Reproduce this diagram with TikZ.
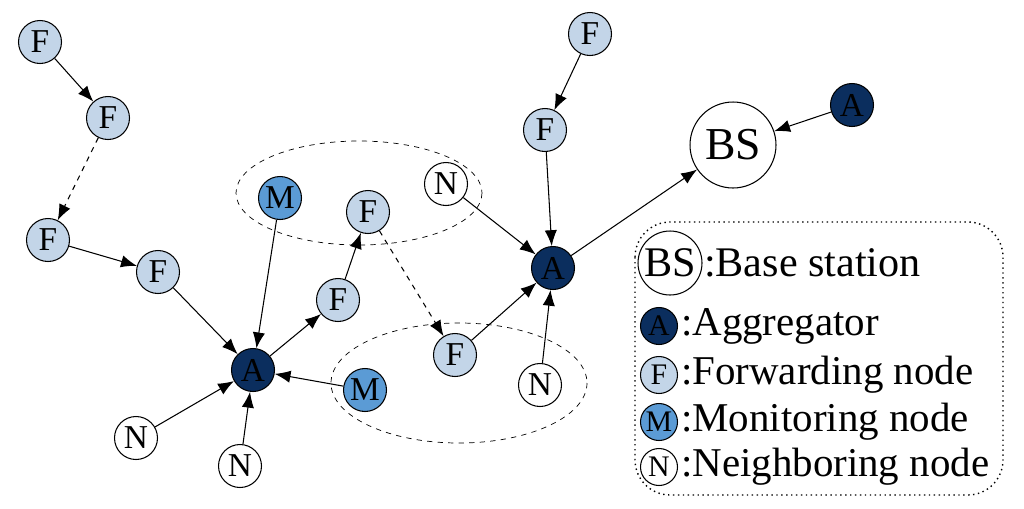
\documentclass[tikz,border=0pt]{standalone}
\usepackage{fontspec}
\setmainfont{Liberation Serif}
\usetikzlibrary{arrows.meta}
\definecolor{navy}{HTML}{0B2E5E}
\definecolor{lb}{HTML}{C3D5E8}
\definecolor{mb}{HTML}{5B9BD5}
\begin{document}
\begin{tikzpicture}[x=0.02cm,y=-0.02cm,
 nd/.style={circle,draw,semithick,minimum size=0.86cm,inner sep=0pt,font=\fontsize{19}{19}\selectfont},
 F/.style={nd,fill=lb}, A/.style={nd,fill=navy}, M/.style={nd,fill=mb}, N/.style={nd,fill=white},
 ar/.style={-{Latex[length=9pt,width=7pt]},semithick}, da/.style={ar,dashed},
 lt/.style={anchor=west,inner sep=1pt,font=\fontsize{23.3}{23.3}\selectfont}]
\useasboundingbox (0,0) rectangle (1024,508);
\draw[dashed] (359,193) ellipse [x radius=123,y radius=52];
\draw[dashed] (459,383) ellipse [x radius=128,y radius=60];
\node[F] (f1) at (40,42) {F};
\node[F] (f2) at (108,118) {F};
\node[F] (f3) at (48,240) {F};
\node[F] (f4) at (158,272) {F};
\node[A] (a1) at (253,370) {A};
\node[N] (n1) at (136,438) {N};
\node[N] (n2) at (240,466) {N};
\node[M] (m1) at (280,198) {M};
\node[F] (f5) at (368,212) {F};
\node[F] (f6) at (338,300) {F};
\node[F] (f7) at (455,355) {F};
\node[M] (m2) at (365,390) {M};
\node[N] (n3) at (446,184) {N};
\node[A] (a2) at (553,268) {A};
\node[N] (n4) at (540,385) {N};
\node[F] (f8) at (545,130) {F};
\node[F] (f9) at (590,34) {F};
\node[N,minimum size=1.72cm,font=\fontsize{26}{26}\selectfont] (bs) at (733,145) {BS};
\node[A] (a3) at (852,105) {A};
\draw[ar] (f1)--(f2); \draw[da] (f2)--(f3); \draw[ar] (f3)--(f4); \draw[ar] (f4)--(a1);
\draw[ar] (n1)--(a1); \draw[ar] (n2)--(a1); \draw[ar] (m1)--(a1); \draw[ar] (m2)--(a1);
\draw[ar] (a1)--(f6); \draw[ar] (f6)--(f5); \draw[da] (f5)--(f7); \draw[ar] (f7)--(a2);
\draw[ar] (n3)--(a2); \draw[ar] (n4)--(a2); \draw[ar] (f9)--(f8); \draw[ar] (f8)--(a2);
\draw[ar] (a2)--(bs); \draw[ar] (a3)--(bs);
\draw[dotted,thick,rounded corners=20] (635,222) rectangle (1003,495);
\node[N,minimum size=1.28cm,font=\fontsize{24}{24}\selectfont] (lbs) at (670,263) {BS};
\node[lt,font=\fontsize{24}{24}\selectfont] (t0) at (702,263) {:Base station};
\node[A,minimum size=0.74cm,font=\fontsize{17}{17}\selectfont] (la) at (659,326) {A};
\node[lt] (t1) at (679,326) {:Aggregator};
\node[F,minimum size=0.74cm,font=\fontsize{17}{17}\selectfont] (lf) at (659,375) {F};
\node[lt] (t2) at (679,375) {:Forwarding node};
\node[M,minimum size=0.74cm,font=\fontsize{17}{17}\selectfont] (lm) at (659,422) {M};
\node[lt] (t3) at (679,422) {:Monitoring node};
\node[N,minimum size=0.74cm,font=\fontsize{17}{17}\selectfont] (ln) at (659,467) {N};
\node[lt] (t4) at (679,467) {:Neighboring node};
\end{tikzpicture}
\end{document}
